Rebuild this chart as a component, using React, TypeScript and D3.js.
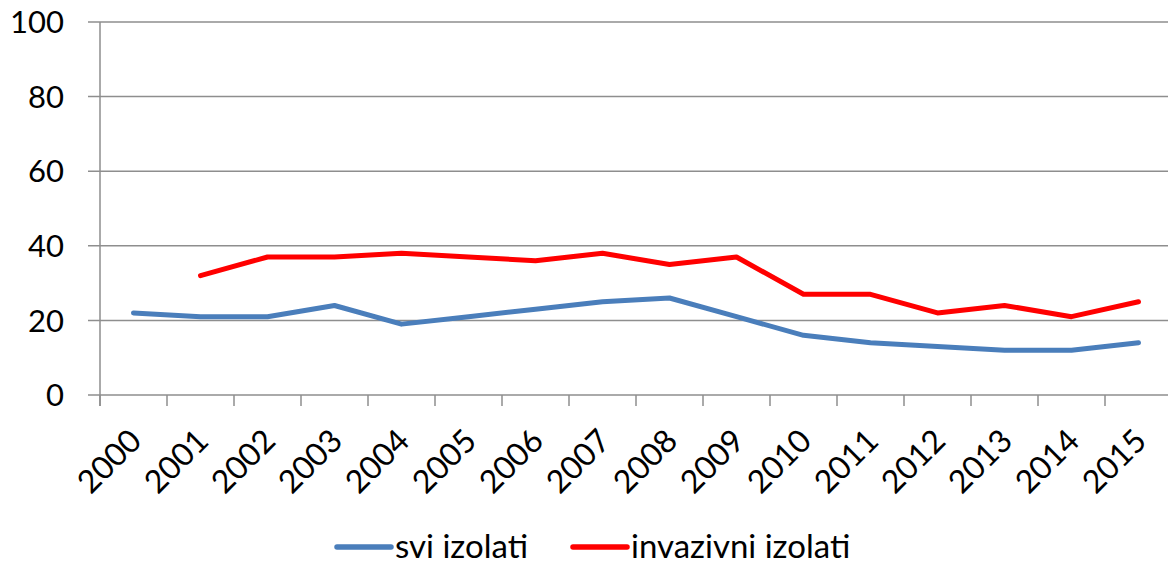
import React, { useEffect, useRef } from 'react';
import * as d3 from 'd3';

const years = ['2000', '2001', '2002', '2003', '2004', '2005', '2006', '2007',
  '2008', '2009', '2010', '2011', '2012', '2013', '2014', '2015'];
const sviIzolati = [22, 21, 21, 24, 19, 21, 23, 25, 26, 21, 16, 14, 13, 12, 12, 14];
// no value for 2000
const invazivniIzolati = [null, 32, 37, 37, 38, 37, 36, 38, 35, 37, 27, 27, 22, 24, 21, 25];
const yTicks = [0, 20, 40, 60, 80, 100];

const seriesNames = ['svi izolati', 'invazivni izolati'];
const seriesColors = ['#4a7ebb', '#ff0000'];

const FONT = 'Lato, Carlito, Calibri, sans-serif';

export default function App() {
  const ref = useRef<SVGSVGElement>(null);

  useEffect(() => {
    const svg = d3.select(ref.current);
    svg.selectAll('*').remove();

    const left = 100;
    const right = 1172;
    const top = 22;
    const bottom = 395;

    const x = d3.scaleBand<string>().domain(years).range([left, right]).padding(0);
    const y = d3.scaleLinear().domain([0, 100]).range([bottom, top]);
    const cx = (d: string) => (x(d) as number) + x.bandwidth() / 2;

    // gridlines + y labels
    const yAxis = svg.append('g');
    yAxis.selectAll('line').data(yTicks).enter()
      .append('line')
      .attr('x1', left - 12)
      .attr('x2', 1168)
      .attr('y1', (d) => y(d))
      .attr('y2', (d) => y(d))
      .style('stroke', '#8e8e8e')
      .style('stroke-width', 1.5);

    yAxis.selectAll('text').data(yTicks).enter()
      .append('text')
      .attr('x', 64)
      .attr('y', (d) => y(d))
      .attr('dy', '0.36em')
      .attr('text-anchor', 'end')
      .style('font-family', FONT)
      .style('font-size', '31px')
      .style('fill', '#000')
      .text((d) => d);

    // y axis line
    svg.append('line')
      .attr('x1', left)
      .attr('x2', left)
      .attr('y1', top)
      .attr('y2', bottom + 11)
      .style('stroke', '#8e8e8e')
      .style('stroke-width', 1.5);

    // x tick marks at band edges
    const xAxis = svg.append('g');
    xAxis.selectAll('line').data(years).enter()
      .append('line')
      .attr('x1', (d) => x(d) as number)
      .attr('x2', (d) => x(d) as number)
      .attr('y1', bottom)
      .attr('y2', bottom + 11)
      .style('stroke', '#8e8e8e')
      .style('stroke-width', 1.5);

    xAxis.selectAll('text').data(years).enter()
      .append('text')
      .attr('transform', (d) => `translate(${cx(d) - 6},${bottom + 32}) rotate(-45)`)
      .attr('text-anchor', 'end')
      .attr('dy', '0.7em')
      .style('font-family', FONT)
      .style('font-size', '32px')
      .style('fill', '#000')
      .text((d) => d);

    // lines
    const series = [sviIzolati, invazivniIzolati];
    series.forEach((vals, i) => {
      const line = d3.line<number | null>()
        .defined((d) => d !== null)
        .x((d, j) => cx(years[j]))
        .y((d) => y(d as number));
      svg.append('path')
        .datum(vals)
        .attr('d', line)
        .style('fill', 'none')
        .style('stroke', seriesColors[i])
        .style('stroke-width', 5)
        .style('stroke-linejoin', 'round')
        .style('stroke-linecap', 'round');
    });

    // legend
    const legendX = [337, 573];
    const legend = svg.append('g');
    seriesNames.forEach((name, i) => {
      legend.append('line')
        .attr('x1', legendX[i])
        .attr('x2', legendX[i] + 54)
        .attr('y1', 547)
        .attr('y2', 547)
        .style('stroke', seriesColors[i])
        .style('stroke-width', 5.5)
        .style('stroke-linecap', 'round');
      legend.append('text')
        .attr('x', legendX[i] + 58)
        .attr('y', 558)
        .style('font-family', FONT)
        .style('font-size', '33px')
        .style('fill', '#000')
        .text(name);
    });
  }, []);

  return (
    <svg
      ref={ref}
      width={1168}
      height={566}
      style={{ position: 'absolute', left: 0, top: 0, background: '#fff' }}
    />
  );
}
